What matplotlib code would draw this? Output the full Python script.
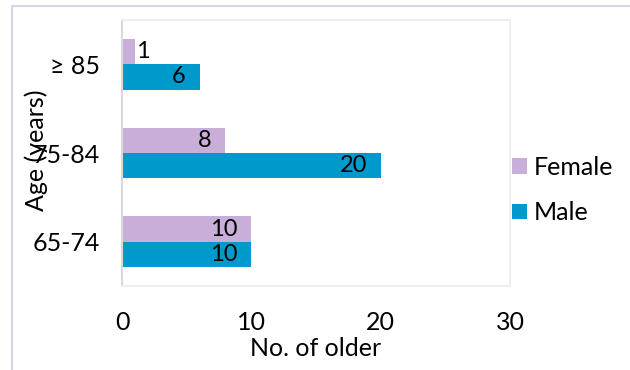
import matplotlib.pyplot as plt
import numpy as np
from matplotlib.patches import Rectangle

plt.rcParams['font.family'] = ['Lato', 'DejaVu Sans']

# ================= Data =================
age_groups = ['65-74', '75-84', '≥ 85']
female = [10, 8, 1]
male = [10, 20, 6]

female_color = '#C8AED8'
male_color = '#0099CC'

# ================= Figure =================
fig = plt.figure(figsize=(6.3, 3.7), dpi=100)
ax = fig.add_axes([122 / 630, 1 - 286 / 370, (510 - 122) / 630, (286 - 20) / 370])

# outer frame of the chart area
fig.patches.append(Rectangle((12 / 630, -0.1), 1.2, 1 - 6 / 370 + 0.1, transform=fig.transFigure,
                             fill=False, edgecolor='#DCCBE6', linewidth=1.3))

y = np.arange(len(age_groups))
h = 0.285
bars_m = ax.barh(y - h / 2, male, height=h, color=male_color, label='Male')
bars_f = ax.barh(y + h / 2, female, height=h, color=female_color, label='Female')

# value labels at the inner end of each bar
for bars, vals in [(bars_f, female), (bars_m, male)]:
    for b, v in zip(bars, vals):
        yc = b.get_y() + b.get_height() / 2
        if v < 2:
            ax.annotate(str(v), (v, yc), xytext=(1, 0), textcoords='offset points',
                        ha='left', va='center', fontsize=17, color='black')
        else:
            ax.annotate(str(v), (v, yc), xytext=(-10, 0), textcoords='offset points',
                        ha='right', va='center', fontsize=17, color='black')

ax.set_xlim(0, 30)
ax.set_ylim(-0.5, 2.5)
ax.set_xticks([0, 10, 20, 30])
ax.set_yticks(y)
ax.set_yticklabels(age_groups)
ax.tick_params(axis='both', length=0, labelsize=18)
ax.tick_params(axis='x', pad=18)
ax.tick_params(axis='y', pad=16)

for s in ['top', 'right', 'bottom']:
    ax.spines[s].set_color('#EEEAF3')
    ax.spines[s].set_linewidth(1.2)
ax.spines['left'].set_color('#D9D9D9')
ax.spines['left'].set_linewidth(1.5)

ax.set_xlabel('No. of older', fontsize=18, labelpad=2)
fig.text(36 / 630, 1 - 150 / 370, 'Age (years)', rotation=90, fontsize=18,
         ha='center', va='center')

handles = [bars_f, bars_m]
ax.legend(handles, ['Female', 'Male'], loc='center left', bbox_to_anchor=(489 / 630, 1 - 190 / 370),
          bbox_transform=fig.transFigure, frameon=False, fontsize=18, handlelength=0.6,
          handleheight=0.6, handletextpad=0.3, labelspacing=0.9)

fig.savefig('out.png', dpi=100)
